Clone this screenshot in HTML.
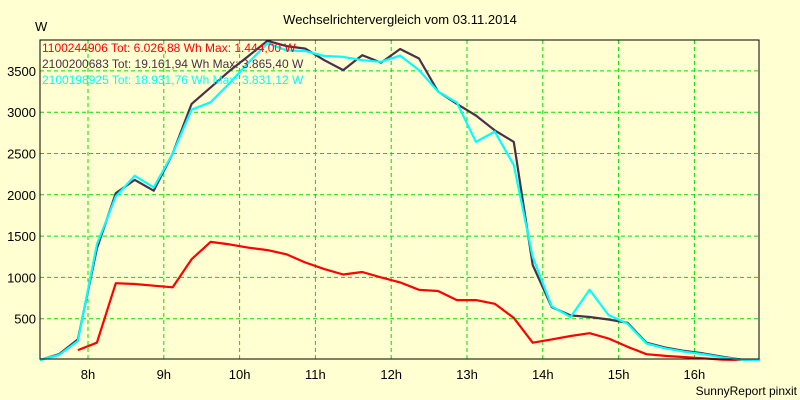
<!DOCTYPE html>
<html><head><meta charset="utf-8"><style>
html,body{margin:0;padding:0;background:#ffffd2;}
svg{display:block;font-family:"Liberation Sans",sans-serif;}
</style></head><body>
<svg id="chart" width="800" height="400" viewBox="0 0 800 400">
<rect x="0" y="0" width="800" height="400" fill="#ffffd2"/>
<text x="400" y="24" text-anchor="middle" font-size="13" fill="#000">Wechselrichtervergleich vom 03.11.2014</text>
<text x="35" y="31" font-size="13" fill="#000">W</text>
<text x="797" y="395" text-anchor="end" font-size="12" fill="#000">SunnyReport pinxit</text>
<g id="grid"></g>
<g id="ticks"></g>
<g id="series"></g>
<rect x="40" y="40" width="719" height="319" fill="none" stroke="#000" stroke-width="1"/>
<g font-size="12">
<text x="42" y="52" fill="#ff0000">1100244906 Tot: 6.026,88 Wh Max: 1.444,00 W</text>
<text x="42" y="68" fill="#4a3048">2100200683 Tot: 19.161,94 Wh Max: 3.865,40 W</text>
<text x="42" y="84" fill="#00ffff">2100198925 Tot: 18.931,76 Wh Max: 3.831,12 W</text>
</g>
</svg>
<script>
const xTickHours = [8,9,10,11,12,13,14,15,16];
const xTickLabels = ["8h","9h","10h","11h","12h","13h","14h","15h","16h"];
const yTickValues = [500,1000,1500,2000,2500,3000,3500];
const startHour = 7.367;
const stepHours = 0.25;
const darkValues = [0,70,250,1350,2020,2180,2050,2500,3100,3300,3500,3680,3865,3800,3770,3630,3510,3690,3600,3765,3650,3250,3100,2960,2780,2640,1150,640,540,520,490,450,210,150,110,80,40,5,0];
const cyanValues = [0,60,230,1400,1980,2230,2090,2500,3030,3120,3350,3600,3835,3750,3740,3680,3670,3630,3610,3685,3510,3250,3115,2640,2765,2360,1250,650,520,850,545,440,200,140,100,70,30,5,0];
const redValues = [null,null,120,210,930,920,900,880,1220,1430,1400,1360,1330,1280,1180,1100,1035,1065,1000,940,850,835,725,725,680,510,210,250,290,325,260,160,70,50,35,20,5,0,null];

const NS="http://www.w3.org/2000/svg";
function xs(h){return 88+(h-8)*75.8;}
function ys(v){return 360-v*0.0826;}
const grid=document.getElementById('grid'), ticks=document.getElementById('ticks'), series=document.getElementById('series');
function mk(tag,attrs,parent){const e=document.createElementNS(NS,tag);for(const k in attrs)e.setAttribute(k,attrs[k]);parent.appendChild(e);return e;}
xTickHours.forEach((h,i)=>{
  const l=mk('line',{x1:xs(h),x2:xs(h),y1:40,y2:359,stroke:'#00e000','stroke-dasharray':'4,3','stroke-width':1},grid);
  
  
  const t=mk('text',{x:xs(h),y:379,'text-anchor':'middle','font-size':13,fill:'#000'},ticks);
  t.textContent=xTickLabels[i];
  
  
});
yTickValues.forEach(v=>{
  const l=mk('line',{x1:40,x2:759,y1:ys(v),y2:ys(v),stroke:'#00e000','stroke-dasharray':'4,3','stroke-width':1},grid);
  
  
  const t=mk('text',{x:36,y:ys(v)+5,'text-anchor':'end','font-size':13,fill:'#000'},ticks);
  t.textContent=String(v);
  
  
});
function drawSeries(vals,color,name){
  let d='';let pen=false;
  vals.forEach((v,i)=>{
    if(v===null){pen=false;return;}
    const x=xs(startHour+i*stepHours), y=ys(v);
    d+=(pen?'L':'M')+x.toFixed(1)+' '+y.toFixed(1)+' ';pen=true;
  });
  const p=mk('path',{d:d,fill:'none',stroke:color,'stroke-width':2.2,'stroke-linejoin':'round'},series);
  
  
}
drawSeries(redValues,'#ff0000','line-1100244906');
drawSeries(darkValues,'#4a3048','line-2100200683');
drawSeries(cyanValues,'#00ffff','line-2100198925');
</script>
</body></html>
